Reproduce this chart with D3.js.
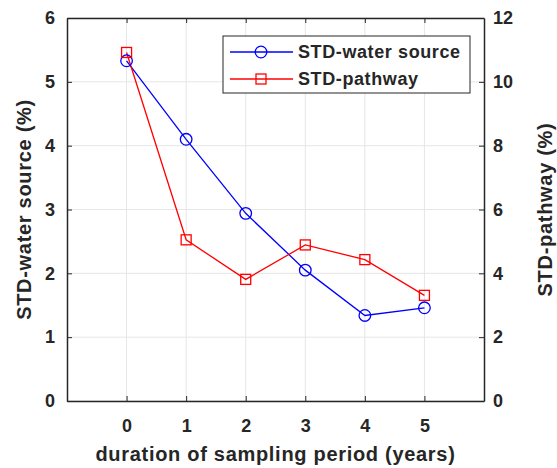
<!DOCTYPE html>
<html>
<head>
<meta charset="utf-8">
<script src="https://cdn.jsdelivr.net/npm/d3@7"></script>
<style>
  body { margin: 0; background: #fff; }
  text { font-family: "Liberation Sans", Arial, sans-serif; font-weight: bold; fill: #262626; }
</style>
</head>
<body>
<svg id="chart"></svg>
<script>
const years = [0, 1, 2, 3, 4, 5]
const stdWaterSource = [5.33, 4.10, 2.94, 2.05, 1.34, 1.46]
const stdPathway = [10.92, 5.05, 3.81, 4.89, 4.43, 3.31]
const xTicks = [0, 1, 2, 3, 4, 5]
const leftTicks = [0, 1, 2, 3, 4, 5, 6]
const rightTicks = [0, 2, 4, 6, 8, 10, 12]

const width = 557, height = 468
const margin = {top: 18, right: 73, bottom: 67, left: 67}
const svg = d3.select('#chart').attr('width', width).attr('height', height)

const x = d3.scaleLinear().domain([-1, 6]).range([margin.left, width - margin.right])
const yL = d3.scaleLinear().domain([0, 6]).range([height - margin.bottom, margin.top])
const yR = d3.scaleLinear().domain([0, 12]).range([height - margin.bottom, margin.top])

const x0 = margin.left, x1 = width - margin.right
const y0 = height - margin.bottom, y1 = margin.top

// grid
const grid = svg.append('g').attr('stroke', '#e6e6e6').attr('stroke-width', 1)
grid.selectAll('.gx').data(xTicks).enter().append('line')
  .attr('x1', d => x(d)).attr('x2', d => x(d)).attr('y1', y0).attr('y2', y1)
grid.selectAll('.gy').data(leftTicks).enter().append('line')
  .attr('x1', x0).attr('x2', x1).attr('y1', d => yL(d)).attr('y2', d => yL(d))

// axes
const fmt = d3.format('d')
const gx = svg.append('g').attr('transform', `translate(0,${y0})`)
  .call(d3.axisBottom(x).tickValues(xTicks).tickFormat(fmt).tickSizeInner(-5).tickSizeOuter(0).tickPadding(18))
const gxt = svg.append('g').attr('transform', `translate(0,${y1})`)
  .call(d3.axisTop(x).tickValues(xTicks).tickSizeInner(-5).tickSizeOuter(0).tickFormat(''))
const gl = svg.append('g').attr('transform', `translate(${x0},0)`)
  .call(d3.axisLeft(yL).tickValues(leftTicks).tickFormat(fmt).tickSizeInner(-5).tickSizeOuter(0).tickPadding(12))
const gr = svg.append('g').attr('transform', `translate(${x1},0)`)
  .call(d3.axisRight(yR).tickValues(rightTicks).tickFormat(fmt).tickSizeInner(-5).tickSizeOuter(0).tickPadding(9))

;[gx, gxt, gl, gr].forEach(g => {
  g.attr('font-size', null).attr('font-family', null)
  g.select('.domain').attr('stroke', '#262626').attr('stroke-width', 1.5)
  g.selectAll('.tick line').attr('stroke', '#262626')
  g.selectAll('text').style('font-size', '18px').attr('fill', '#262626')
})

// lines
const lineL = d3.line().x((d, i) => x(years[i])).y(d => yL(d))
const lineR = d3.line().x((d, i) => x(years[i])).y(d => yR(d))

svg.append('path').attr('d', lineL(stdWaterSource))
  .attr('fill', 'none').attr('stroke', '#0000ff').attr('stroke-width', 1.3)
svg.append('path').attr('d', lineR(stdPathway))
  .attr('fill', 'none').attr('stroke', '#ff0000').attr('stroke-width', 1.3)

svg.selectAll('.mc').data(stdWaterSource).enter().append('circle')
  .attr('cx', (d, i) => x(years[i])).attr('cy', d => yL(d)).attr('r', 5.8)
  .attr('fill', 'none').attr('stroke', '#0000ff').attr('stroke-width', 1.3)
svg.selectAll('.ms').data(stdPathway).enter().append('rect')
  .attr('x', (d, i) => x(years[i]) - 5).attr('y', d => yR(d) - 5)
  .attr('width', 10).attr('height', 10)
  .attr('fill', 'none').attr('stroke', '#ff0000').attr('stroke-width', 1.3)

// axis labels
const labelStyle = sel => sel.style('font-size', '20px').style('letter-spacing', '0.7px')
svg.append('text').text('duration of sampling period (years)')
  .attr('x', (x0 + x1) / 2).attr('y', 461).attr('text-anchor', 'middle').call(labelStyle)
svg.append('text').text('STD-water source (%)')
  .attr('transform', `translate(31,${(y0 + y1) / 2}) rotate(-90)`)
  .attr('text-anchor', 'middle').call(labelStyle)
svg.append('text').text('STD-pathway (%)')
  .attr('transform', `translate(552,${(y0 + y1) / 2}) rotate(-90)`)
  .attr('text-anchor', 'middle').call(labelStyle)

// legend
const lg = svg.append('g')
lg.append('rect').attr('x', 223).attr('y', 36).attr('width', 247).attr('height', 57)
  .attr('fill', '#fff').attr('stroke', '#262626').attr('stroke-width', 1)
const legendItems = [
  {name: 'STD-water source', color: '#0000ff', shape: 'circle'},
  {name: 'STD-pathway', color: '#ff0000', shape: 'square'}
]
legendItems.forEach((it, i) => {
  const yy = 52 + i * 27
  lg.append('line').attr('x1', 230).attr('x2', 293).attr('y1', yy).attr('y2', yy)
    .attr('stroke', it.color).attr('stroke-width', 1.3)
  if (it.shape === 'circle') {
    lg.append('circle').attr('cx', 261).attr('cy', yy).attr('r', 5.8)
      .attr('fill', 'none').attr('stroke', it.color).attr('stroke-width', 1.3)
  } else {
    lg.append('rect').attr('x', 256).attr('y', yy - 5).attr('width', 10).attr('height', 10)
      .attr('fill', 'none').attr('stroke', it.color).attr('stroke-width', 1.3)
  }
  lg.append('text').text(it.name).attr('x', 298).attr('y', yy + 6)
    .style('font-size', '18px').style('letter-spacing', '0.6px')
})
</script>
</body>
</html>
